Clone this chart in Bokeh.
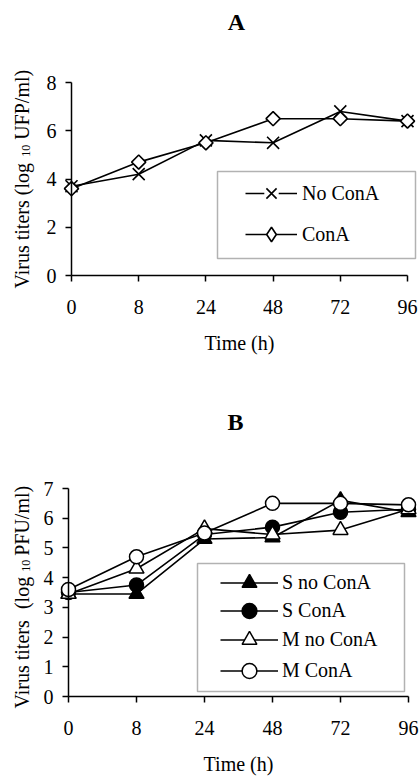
import math
from bokeh.plotting import figure
from bokeh.models import (Range1d, FixedTicker, Label, Legend, LegendItem,
                          BoxAnnotation)
from bokeh.layouts import column
from bokeh.embed import file_html
from bokeh.resources import INLINE

# ---------------- data ----------------
times = ["0", "8", "24", "48", "72", "96"]          # Time (h) tick labels

# Panel A  (log10 UFP/ml)
a_no_cona = [3.7, 4.2, 5.6, 5.5, 6.8, 6.4]
a_cona = [3.6, 4.7, 5.5, 6.5, 6.5, 6.4]

# Panel B  (log10 PFU/ml)
b_s_no_cona = [3.45, 3.45, 5.3, 5.35, 6.6, 6.2]
b_s_cona = [3.5, 3.75, 5.45, 5.7, 6.2, 6.3]
b_m_no_cona = [3.45, 4.3, 5.65, 5.45, 5.6, 6.3]
b_m_cona = [3.6, 4.7, 5.5, 6.5, 6.5, 6.45]

a_yticks = [0, 2, 4, 6, 8]
b_yticks = [0, 1, 2, 3, 4, 5, 6, 7]

FONT = "Liberation Serif"
XI = list(range(len(times)))
W = 419

# Times advance widths (per 1000 em) for placing label pieces
TW = {'V': 722, 'i': 278, 'r': 333, 'u': 500, 's': 389, ' ': 250, 't': 278,
      'e': 444, '(': 333, 'l': 278, 'o': 500, 'g': 500, '1': 500, '0': 500,
      'U': 722, 'F': 556, 'P': 556, '/': 278, 'm': 778, ')': 333}


def tw(s, size):
    return sum(TW.get(c, 500) for c in s) / 1000.0 * size


def make_fig(H, x0px, x1px, y0px, y1px, ymax, yticks):
    """Frame fills the whole canvas; axes are pinned at x=0 / y=0.
    x0px/x1px: pixel columns of first/last time; y0px/y1px: pixel rows of 0/ymax."""
    n = len(times) - 1
    kx = (x1px - x0px) / n
    ky = (y0px - y1px) / ymax
    p = figure(width=W, height=H, output_backend="svg", toolbar_location=None,
               x_range=Range1d(-x0px / kx, (W - x0px) / kx),
               y_range=Range1d(-(H - y0px) / ky, y0px / ky), min_border=0)
    p.outline_line_color = None
    p.grid.visible = False
    p.background_fill_color = "white"
    p.border_fill_color = "white"
    p.xaxis.fixed_location = 0
    p.yaxis.fixed_location = 0
    p.xaxis.bounds = (0, n)
    p.yaxis.bounds = (0, ymax)
    p.xaxis.ticker = FixedTicker(ticks=XI)
    p.xaxis.major_label_overrides = {i: t for i, t in enumerate(times)}
    p.yaxis.ticker = FixedTicker(ticks=yticks)
    for ax in (p.xaxis[0], p.yaxis[0]):
        ax.axis_line_width = 1.5
        ax.axis_line_color = "black"
        ax.major_tick_line_width = 1.5
        ax.major_tick_line_color = "black"
        ax.major_tick_out = 6
        ax.major_tick_in = 0
        ax.minor_tick_line_color = None
        ax.major_label_text_font = FONT
        ax.major_label_text_font_size = "20px"
        ax.major_label_text_color = "black"
    p.yaxis.major_label_standoff = 9
    p.xaxis.major_label_standoff = 18
    p.xaxis.axis_label = "Time (h)"
    p.xaxis.axis_label_text_font = FONT
    p.xaxis.axis_label_text_font_size = "20px"
    p.xaxis.axis_label_text_font_style = "normal"
    p.xaxis.axis_label_text_color = "black"
    p.xaxis.axis_label_standoff = 15
    return p


def add_title(p, H, text, cx, cy):
    p.add_layout(Label(x=cx, y=H - cy, x_units="screen", y_units="screen",
                       text=text, text_font=FONT, text_font_size="24px",
                       text_font_style="bold", text_align="center",
                       text_baseline="middle", text_color="black"))


def add_ylabel(p, H, pieces, start_y, center_x):
    """pieces: (text, size, gap_before, shift_right), read bottom to top."""
    y = start_y
    for text, size, gap, shift in pieces:
        y -= gap
        p.add_layout(Label(x=center_x + shift, y=H - y, x_units="screen",
                           y_units="screen", text=text, angle=math.pi / 2,
                           text_font=FONT, text_font_size=f"{size}px",
                           text_align="left", text_baseline="middle",
                           text_color="black"))
        y -= tw(text, size)


def box(p, H, l, r, t, b):
    p.add_layout(BoxAnnotation(left=l, right=r, top=H - t, bottom=H - b,
                               left_units="screen", right_units="screen",
                               top_units="screen", bottom_units="screen",
                               fill_alpha=0, line_color="black",
                               line_width=1.5))


def legend(p, H, item, gx, cy, gw, gh, standoff):
    lg = Legend(items=[item], location=(gx, H - (cy + gh / 2)), padding=0,
                spacing=0, glyph_width=gw, glyph_height=gh, label_height=gh,
                label_standoff=standoff, border_line_alpha=0,
                background_fill_alpha=0, label_text_font=FONT,
                label_text_font_size="20px", label_text_color="black",
                margin=0)
    p.add_layout(lg, "center")


# ---------------- Panel A ----------------
A_H = 380
pA = make_fig(A_H, 71, 407, 275, 82, 8, a_yticks)
add_title(pA, A_H, "A", 236, 21)
add_ylabel(pA, A_H, [("Virus titers (log", 20, 0, 0), ("10", 12, 5, 4),
                     ("UFP/ml)", 20, 5, 0)], 288, 21)

la1 = pA.line(XI, a_no_cona, line_color="black", line_width=1.6)
sa1 = pA.scatter(XI, a_no_cona, marker="x", size=17, line_color="black",
                 line_width=1.6)
la2 = pA.line(XI, a_cona, line_color="black", line_width=1.6)
sa2 = pA.scatter(XI, a_cona, marker="square", angle=math.pi / 4, size=10,
                 line_color="black", fill_color="white", line_width=1.6)
# zero-size glyphs: invisible in the plot, they only shape the legend keys
gapA = pA.scatter(XI, a_no_cona, marker="square", size=0, line_alpha=0,
                  fill_color="white")
keyA2 = pA.scatter(XI, a_cona, marker="diamond", size=0, line_color="black",
                   fill_color="white", line_width=1.6)

box(pA, A_H, 217, 415, 171, 258)
legend(pA, A_H, LegendItem(label="No ConA", renderers=[la1, gapA, sa1]),
       245, 193, 52, 36, 5)
legend(pA, A_H, LegendItem(label="ConA", renderers=[la2, keyA2]),
       245, 234, 52, 36, 5)

# ---------------- Panel B ----------------
B_H = 396
pB = make_fig(B_H, 68, 408, 316, 108, 7, b_yticks)
add_title(pB, B_H, "B", 235, 41)
add_ylabel(pB, B_H, [("Virus titers", 20, 0, 0), ("(log", 20, 10, 0),
                     ("10", 12, 5, 4), ("PFU/ml)", 20, 4, 0)], 328, 21)

series_b = [
    ("S no ConA", b_s_no_cona, "triangle", 15, "black"),
    ("S ConA", b_s_cona, "circle", 14, "black"),
    ("M no ConA", b_m_no_cona, "triangle", 15, "white"),
    ("M ConA", b_m_cona, "circle", 14, "white"),
]
b_rows = [202, 230, 259, 290]   # legend row centres (px from top of panel)
box(pB, B_H, 197, 404, 183, 311)
for (name, vals, mk, sz, fill), cy in zip(series_b, b_rows):
    lr = pB.line(XI, vals, line_color="black", line_width=1.6)
    sr = pB.scatter(XI, vals, marker=mk, size=sz, line_color="black",
                    fill_color=fill, line_width=1.5)
    legend(pB, B_H, LegendItem(label=name, renderers=[lr, sr]),
           220, cy, 58, 37, 4)

layout = column(pA, pB, spacing=0)
open("out.html", "w").write(file_html(layout, INLINE))
